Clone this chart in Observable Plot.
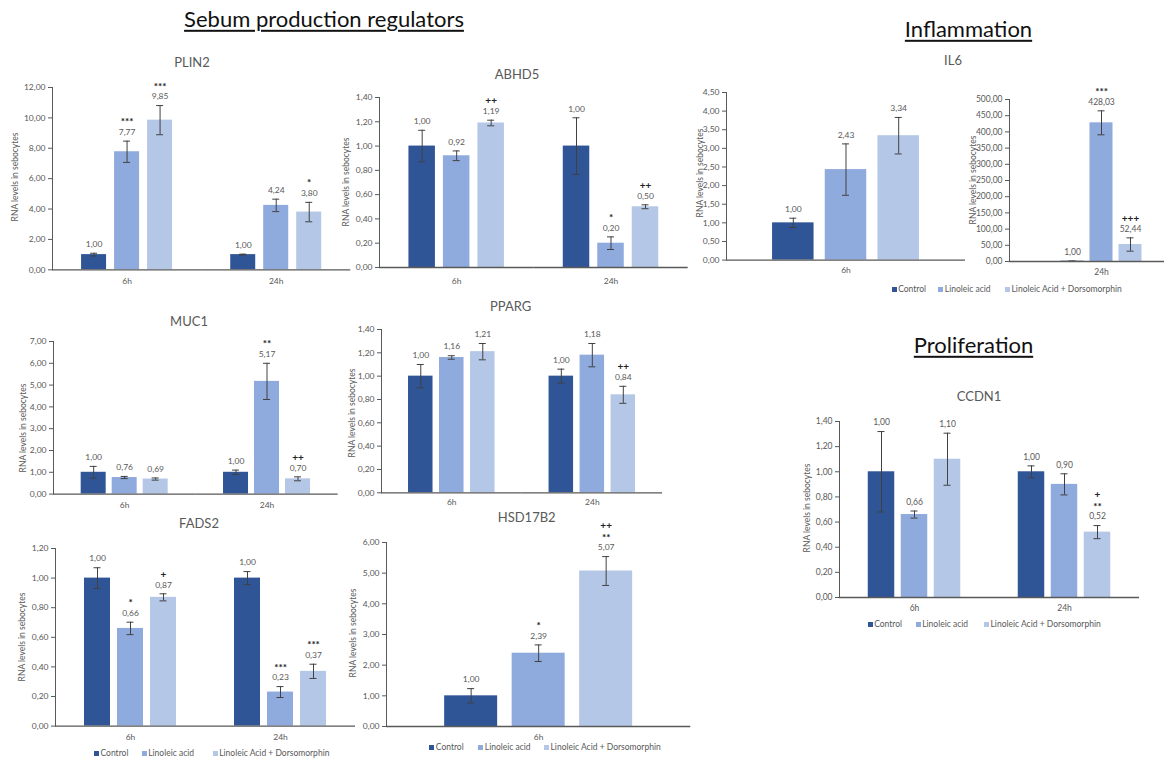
<!DOCTYPE html>
<html><head><meta charset="utf-8">
<script src="https://cdn.jsdelivr.net/npm/d3@7"></script>
<script src="https://cdn.jsdelivr.net/npm/@observablehq/plot@0.6"></script>
<style>
body{margin:0;background:#fff;font-family:Lato,"Open Sans",sans-serif;}
#root{position:relative;width:1164px;height:758px;overflow:hidden;background:#fff;}
.abs{position:absolute;white-space:nowrap;line-height:1.2;}
.ctr{transform:translate(-50%,-50%);}
.sec{font-size:22px;color:#111;text-decoration:underline;text-decoration-thickness:1.6px;text-underline-offset:3px;}
.ptitle{font-size:13px;color:#595959;}
.ylab{font-size:8.5px;color:#595959;transform:translate(-50%,-50%) rotate(-90deg);}
.leg{font-size:8.5px;color:#595959;}
.sq{position:absolute;width:5px;height:5px;}
</style></head><body><div id="root"></div><script>
// ---------- data ----------
const treatments = ["Control", "Linoleic acid", "Linoleic Acid + Dorsomorphin"];
const barColors = ["#2F5597", "#8FAADC", "#B4C7E7"];
const yAxisTitle = "RNA levels in sebocytes";

const plin2Times = ["6h", "24h"];
const plin2Means = [[1.00, 7.77, 9.85], [1.00, 4.24, 3.80]];
const plin2Errors = [[0.09, 0.70, 0.96], [0.03, 0.41, 0.64]];
const plin2Signif = [["", "***", "***"], ["", "", "*"]];
const plin2Ticks = [0, 2, 4, 6, 8, 10, 12];

const abhd5Times = ["6h", "24h"];
const abhd5Means = [[1.00, 0.92, 1.19], [1.00, 0.20, 0.50]];
const abhd5Errors = [[0.13, 0.04, 0.023], [0.233, 0.052, 0.016]];
const abhd5Signif = [["", "", "++"], ["", "*", "++"]];
const abhd5Ticks = [0, 0.2, 0.4, 0.6, 0.8, 1.0, 1.2, 1.4];

const il6Times = ["6h"];
const il6Means = [[1.00, 2.43, 3.34]];
const il6Errors = [[0.125, 0.69, 0.49]];
const il6Signif = [["", "", ""]];
const il6Ticks = [0, 0.5, 1.0, 1.5, 2.0, 2.5, 3.0, 3.5, 4.0, 4.5];

const inflam24Times = ["24h"];
const inflam24Means = [[1.00, 428.03, 52.44]];
const inflam24Errors = [[0.5, 37, 20.5]];
const inflam24Signif = [["", "***", "+++"]];
const inflam24Ticks = [0, 50, 100, 150, 200, 250, 300, 350, 400, 450, 500];

const muc1Times = ["6h", "24h"];
const muc1Means = [[1.00, 0.76, 0.69], [1.00, 5.17, 0.70]];
const muc1Errors = [[0.27, 0.05, 0.05], [0.10, 0.83, 0.09]];
const muc1Signif = [["", "", ""], ["", "**", "++"]];
const muc1Ticks = [0, 1, 2, 3, 4, 5, 6, 7];

const ppargTimes = ["6h", "24h"];
const ppargMeans = [[1.00, 1.16, 1.21], [1.00, 1.18, 0.84]];
const ppargErrors = [[0.10, 0.015, 0.07], [0.06, 0.10, 0.073]];
const ppargSignif = [["", "", ""], ["", "", "++"]];
const ppargTicks = [0, 0.2, 0.4, 0.6, 0.8, 1.0, 1.2, 1.4];

const fads2Times = ["6h", "24h"];
const fads2Means = [[1.00, 0.66, 0.87], [1.00, 0.23, 0.37]];
const fads2Errors = [[0.07, 0.042, 0.024], [0.044, 0.037, 0.048]];
const fads2Signif = [["", "*", "+"], ["", "***", "***"]];
const fads2Ticks = [0, 0.2, 0.4, 0.6, 0.8, 1.0, 1.2];

const hsdTimes = ["6h"];
const hsdMeans = [[1.00, 2.39, 5.07]];
const hsdErrors = [[0.235, 0.27, 0.47]];
const hsdSignif = [["", "*", "++\n**"]];
const hsdTicks = [0, 1, 2, 3, 4, 5, 6];

const ccdn1Times = ["6h", "24h"];
const ccdn1Means = [[1.00, 0.66, 1.10], [1.00, 0.90, 0.52]];
const ccdn1Errors = [[0.32, 0.028, 0.207], [0.047, 0.084, 0.052]];
const ccdn1Signif = [["", "", ""], ["", "", "+\n**"]];
const ccdn1Ticks = [0, 0.2, 0.4, 0.6, 0.8, 1.0, 1.2, 1.4];

// ---------- helpers ----------
const root = document.getElementById("root");
const fmt = v => v.toFixed(2).replace(".", ",");

function addText(cls, text, x, y) {
  const d = document.createElement("div");
  d.className = "abs " + cls;
  d.textContent = text;
  d.style.left = x + "px";
  d.style.top = y + "px";
  root.appendChild(d);
  return d;
}

function legend(xs, y) {
  treatments.forEach((t, i) => {
    const s = document.createElement("div");
    s.className = "sq";
    s.style.background = barColors[i];
    s.style.left = xs[i] + "px";
    s.style.top = (y - 2.5) + "px";
    root.appendChild(s);
    const d = addText("leg", t, xs[i] + 6.5, y);
    d.style.transform = "translateY(-50%)";
  });
}

function panel(c) {
  const rows = c.times.flatMap((t, i) => treatments.map((g, j) => ({
    time: t, group: g, v: c.means[i][j], e: c.errors[i][j], sig: c.signif[i][j]
  })));
  const mL = 45, mR = 12, mT = 40, mB = 24;
  const F = (c.endX - c.axisX) / c.times.length;
  const step = c.barW + c.gap;
  const p = c.gap / step;
  const o = (F / step - 3 + p) / 2;
  const bw = step * (1 - p);
  const inset = Math.max(0, (bw - 7) / 2);
  const W = c.endX - c.axisX + mL + mR;
  const H = c.baseY - c.topY + mT + mB;
  const errStroke = "#404040";
  const chart = Plot.plot({
    width: W, height: H,
    marginLeft: mL, marginRight: mR, marginTop: mT, marginBottom: mB,
    style: {background: "transparent", overflow: "visible", color: "#595959",
            fontFamily: "Lato, 'Open Sans', sans-serif", fontSize: "8.5px", maxWidth: "none"},
    fx: {domain: c.times, padding: 0, round: false, axis: "bottom", tickSize: 0,
         tickPadding: c.xPad, label: null},
    x: {domain: treatments, paddingInner: p, paddingOuter: o, round: false, axis: null},
    y: {domain: [0, c.ticks[c.ticks.length - 1]], ticks: c.ticks, tickFormat: fmt,
        tickSize: 4, tickPadding: 3, line: true, label: null},
    color: {domain: treatments, range: barColors},
    marks: [
      Plot.barY(rows, {fx: "time", x: "group", y: "v", fill: "group"}),
      Plot.ruleX(rows, {fx: "time", x: "group", y1: d => d.v - d.e, y2: d => d.v + d.e,
                        stroke: errStroke, strokeWidth: 1}),
      Plot.tickY(rows, {fx: "time", x: "group", y: d => d.v + d.e, stroke: errStroke,
                        insetLeft: inset, insetRight: inset}),
      Plot.tickY(rows, {fx: "time", x: "group", y: d => d.v - d.e, stroke: errStroke,
                        insetLeft: inset, insetRight: inset}),
      Plot.ruleY([0], {stroke: "#595959", strokeWidth: 1.3}),
      Plot.text(rows, {fx: "time", x: "group", y: d => d.v + d.e, text: d => fmt(d.v),
                       dy: -9, fill: "#595959"}),
      Plot.text(rows.filter(d => d.sig), {fx: "time", x: "group", y: d => d.v + d.e,
                       text: "sig", dy: -16, lineAnchor: "bottom", lineHeight: 1.2,
                       fill: "#222", fontSize: 10, fontWeight: "bold"})
    ]
  });
  const wrap = document.createElement("div");
  wrap.className = "abs";
  wrap.style.left = (c.axisX - mL) + "px";
  wrap.style.top = (c.topY - mT) + "px";
  wrap.appendChild(chart);
  root.appendChild(wrap);
  if (c.title) addText("ptitle ctr", c.title, c.titleX, c.titleY);
  addText("ylab", yAxisTitle, c.ylabX, c.ylabY);
}

// ---------- section titles ----------
addText("sec ctr", "Sebum production regulators", 324, 18.5);
addText("sec ctr", "Inflammation", 968.5, 28.5);
addText("sec ctr", "Proliferation", 973.5, 345);

// ---------- panels ----------
panel({title: "PLIN2", times: plin2Times, means: plin2Means, errors: plin2Errors, signif: plin2Signif,
  ticks: plin2Ticks, axisX: 51.7, topY: 86.7, baseY: 269, endX: 350, barW: 25, gap: 8, xPad: 8.5,
  titleX: 192, titleY: 63.3, ylabX: 15, ylabY: 177});

panel({title: "ABHD5", times: abhd5Times, means: abhd5Means, errors: abhd5Errors, signif: abhd5Signif,
  ticks: abhd5Ticks, axisX: 379.3, topY: 97.3, baseY: 267.3, endX: 688, barW: 26.5, gap: 8, xPad: 10,
  titleX: 517, titleY: 75, ylabX: 345.7, ylabY: 182});

panel({title: "IL6", times: il6Times, means: il6Means, errors: il6Errors, signif: il6Signif,
  ticks: il6Ticks, axisX: 726, topY: 91.7, baseY: 259.3, endX: 965, barW: 41.5, gap: 11.2, xPad: 6.5,
  titleX: 953, titleY: 60.7, ylabX: 700, ylabY: 173});

panel({title: null, times: inflam24Times, means: inflam24Means, errors: inflam24Errors, signif: inflam24Signif,
  ticks: inflam24Ticks, axisX: 1009, topY: 99, baseY: 261, endX: 1193, barW: 23, gap: 6, xPad: 7,
  ylabX: 973, ylabY: 180});

panel({title: "MUC1", times: muc1Times, means: muc1Means, errors: muc1Errors, signif: muc1Signif,
  ticks: muc1Ticks, axisX: 53.3, topY: 340.7, baseY: 493.3, endX: 338, barW: 25, gap: 6, xPad: 7.5,
  titleX: 189, titleY: 321.7, ylabX: 22.7, ylabY: 428});

panel({title: "PPARG", times: ppargTimes, means: ppargMeans, errors: ppargErrors, signif: ppargSignif,
  ticks: ppargTicks, axisX: 380.7, topY: 329, baseY: 492.3, endX: 661.8, barW: 24.5, gap: 6.5, xPad: 6.5,
  titleX: 510.7, titleY: 306.7, ylabX: 351.7, ylabY: 413});

panel({title: "FADS2", times: fads2Times, means: fads2Means, errors: fads2Errors, signif: fads2Signif,
  ticks: fads2Ticks, axisX: 55, topY: 547.7, baseY: 725.3, endX: 355, barW: 26, gap: 7, xPad: 8,
  titleX: 199, titleY: 524.3, ylabX: 22.3, ylabY: 636.7});

panel({title: "HSD17B2", times: hsdTimes, means: hsdMeans, errors: hsdErrors, signif: hsdSignif,
  ticks: hsdTicks, axisX: 385.7, topY: 541.7, baseY: 725.7, endX: 690, barW: 53, gap: 14.5, xPad: 7.5,
  titleX: 526.7, titleY: 518.3, ylabX: 353.3, ylabY: 633});

panel({title: "CCDN1", times: ccdn1Times, means: ccdn1Means, errors: ccdn1Errors, signif: ccdn1Signif,
  ticks: ccdn1Ticks, axisX: 839, topY: 420.7, baseY: 596.7, endX: 1139, barW: 26.5, gap: 6.5, xPad: 7,
  titleX: 979, titleY: 396.7, ylabX: 806.7, ylabY: 508});

// ---------- legends ----------
legend([891.7, 938.3, 1005], 289);
legend([94, 141.7, 212.7], 753.3);
legend([429.3, 478.3, 544], 747.3);
legend([867.7, 915.7, 984], 624.3);
</script></body></html>
